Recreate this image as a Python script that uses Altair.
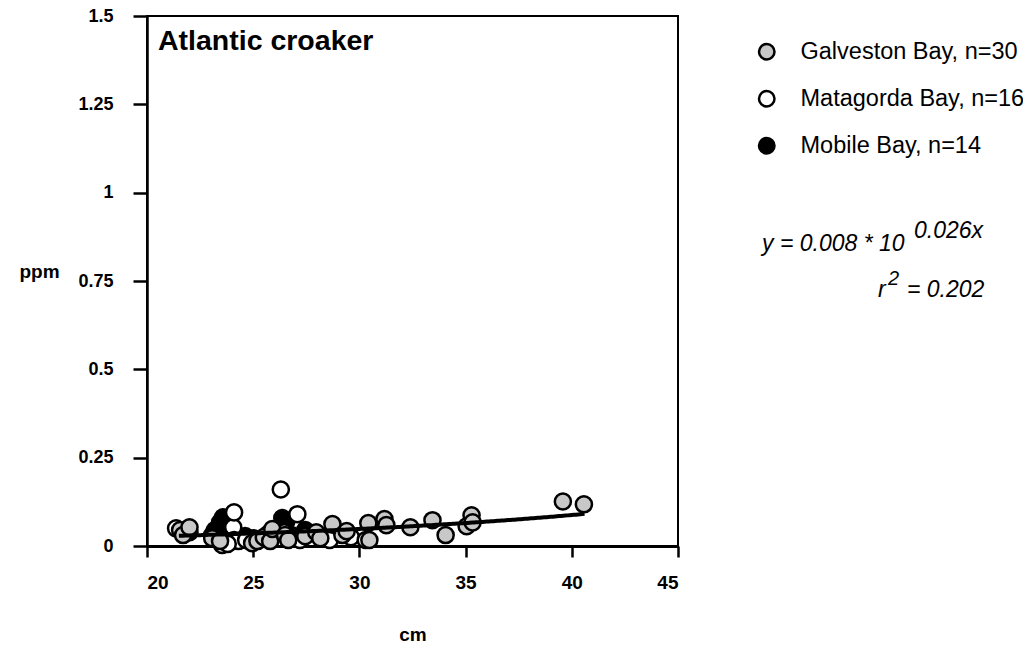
import altair as alt
import pandas as pd

# ---- data ----
gal_cm = [21.56, 21.7, 22.0, 23.07, 23.44, 24.95, 25.2, 25.5, 25.8, 25.9,
          26.5, 26.65, 27.45, 27.97, 28.16, 28.73, 29.2, 29.4, 30.42, 30.47,
          31.18, 31.27, 32.4, 33.44, 34.06, 35.05, 35.28, 35.33, 39.58, 40.57]
gal_ppm = [0.045, 0.031, 0.053, 0.022, 0.014, 0.008, 0.014, 0.025, 0.014, 0.048,
           0.031, 0.017, 0.028, 0.039, 0.022, 0.062, 0.031, 0.042, 0.065, 0.017,
           0.076, 0.059, 0.053, 0.073, 0.031, 0.056, 0.087, 0.067, 0.126, 0.118]

mat_cm = [21.37, 23.35, 23.54, 24.06, 24.1, 24.1, 24.3, 26.3, 27.08, 26.46,
          27.2, 24.67, 28.6, 29.6, 30.3, 23.8]
mat_ppm = [0.05, 0.017, 0.003, 0.053, 0.095, 0.017, 0.014, 0.16, 0.09, 0.039,
           0.017, 0.017, 0.017, 0.025, 0.017, 0.006]

mob_cm = [23.44, 23.58, 23.2, 23.07, 26.37, 26.56, 26.27, 25.0, 23.73, 26.8,
          24.62, 25.7, 27.45, 22.0]
mob_ppm = [0.067, 0.081, 0.045, 0.031, 0.079, 0.07, 0.045, 0.022, 0.031, 0.031,
           0.028, 0.034, 0.045, 0.039]

bays = ["Galveston Bay, n=30", "Matagorda Bay, n=16", "Mobile Bay, n=14"]
bay_fills = ["#c8c8c8", "#ffffff", "#000000"]

# regression shown on the chart: y = 0.008 * 10^(0.026x)
FIT_A = 0.008
FIT_B = 0.026
FIT_X0 = 21.5
FIT_X1 = 40.6

y_ticks = [0, 0.25, 0.5, 0.75, 1, 1.25, 1.5]
x_ticks = [20, 25, 30, 35, 40, 45]

# drawing order: Mobile, Matagorda, Galveston (Galveston on top)
rows = []
for c, p in zip(mob_cm, mob_ppm):
    rows.append({"cm": c, "ppm": p, "bay": bays[2], "ord": 0})
for c, p in zip(mat_cm, mat_ppm):
    rows.append({"cm": c, "ppm": p, "bay": bays[1], "ord": 1})
for c, p in zip(gal_cm, gal_ppm):
    rows.append({"cm": c, "ppm": p, "bay": bays[0], "ord": 2})
df = pd.DataFrame(rows)

FONT = "Liberation Sans"

x_axis = alt.Axis(values=x_ticks, title="cm", grid=False,
                  tickSize=11, tickWidth=2.5, domainWidth=3,
                  domainColor="black", tickColor="black",
                  labelFont=FONT, labelFontSize=19, labelFontWeight="bold",
                  labelColor="black", labelPadding=16,
                  titleFont=FONT, titleFontSize=19, titleFontWeight="bold",
                  titleColor="black", titleY=88, titleBaseline="middle")
y_axis = alt.Axis(values=y_ticks, title="ppm", grid=False,
                  labelExpr="format(datum.value, '~g')",
                  tickSize=14, tickWidth=2.5, domainWidth=2.5,
                  domainColor="black", tickColor="black",
                  labelFont=FONT, labelFontSize=18, labelFontWeight="bold",
                  labelColor="black", labelPadding=20,
                  titleFont=FONT, titleFontSize=19, titleFontWeight="bold",
                  titleColor="black", titleAngle=0, titleX=-108, titleY=255,
                  titleAlign="center", titleBaseline="middle")

x_scale = alt.Scale(domain=[20, 45], nice=False, zero=False)
y_scale = alt.Scale(domain=[0, 1.5], nice=False)

points = alt.Chart(df).mark_point(
    filled=True, shape="circle", size=260, stroke="black", strokeWidth=2.5, opacity=1
).encode(
    x=alt.X("cm:Q", scale=x_scale, axis=x_axis),
    y=alt.Y("ppm:Q", scale=y_scale, axis=y_axis),
    fill=alt.Fill("bay:N", scale=alt.Scale(domain=bays, range=bay_fills),
                  legend=alt.Legend(title=None, orient="none", legendX=608, legendY=24,
                                    symbolType="circle", symbolSize=240,
                                    symbolStrokeColor="black", symbolStrokeWidth=2.5,
                                    labelFont=FONT, labelFontSize=23.5, labelColor="black",
                                    labelLimit=400,
                                    labelOffset=22, rowPadding=21, padding=0)),
    order=alt.Order("ord:Q"),
)

fit = alt.Chart(alt.sequence(FIT_X0, FIT_X1 + 0.001, 0.1, as_="cm")).transform_calculate(
    ppm=f"{FIT_A} * pow(10, {FIT_B} * datum.cm)"
).mark_line(color="black", strokeWidth=4).encode(
    x=alt.X("cm:Q", scale=x_scale, axis=x_axis),
    y=alt.Y("ppm:Q", scale=y_scale, axis=y_axis),
)

title_txt = alt.Chart(pd.DataFrame({"t": ["Atlantic croaker"]})).mark_text(
    font=FONT, fontSize=28.5, fontWeight="bold", align="left", baseline="alphabetic",
    color="black"
).encode(x=alt.value(11), y=alt.value(34), text="t:N")

eq_style = dict(font=FONT, fontStyle="italic", align="left", baseline="alphabetic",
                color="black")
eq_main = alt.Chart(pd.DataFrame({"t": ["y = 0.008 * 10"]})).mark_text(
    fontSize=23, **eq_style).encode(x=alt.value(615), y=alt.value(235), text="t:N")
eq_sup = alt.Chart(pd.DataFrame({"t": ["0.026x"]})).mark_text(
    fontSize=23, **eq_style).encode(x=alt.value(767), y=alt.value(222), text="t:N")
r_main = alt.Chart(pd.DataFrame({"t": ["r"]})).mark_text(
    fontSize=23, **eq_style).encode(x=alt.value(731), y=alt.value(281), text="t:N")
r_sup = alt.Chart(pd.DataFrame({"t": ["2"]})).mark_text(
    fontSize=20, **eq_style).encode(x=alt.value(741), y=alt.value(269), text="t:N")
r_val = alt.Chart(pd.DataFrame({"t": ["= 0.202"]})).mark_text(
    fontSize=23, **eq_style).encode(x=alt.value(760), y=alt.value(281), text="t:N")

chart = alt.layer(points, fit, title_txt, eq_main, eq_sup, r_main, r_sup, r_val).properties(
    width=531, height=530,
    autosize=alt.AutoSizeParams(type="none"),
    padding={"left": 139, "top": 8, "right": 345, "bottom": 101},
).configure(background="white").configure_view(stroke="black", strokeWidth=2)

chart.save("out.html", embed_options={"renderer": "svg", "actions": False})
